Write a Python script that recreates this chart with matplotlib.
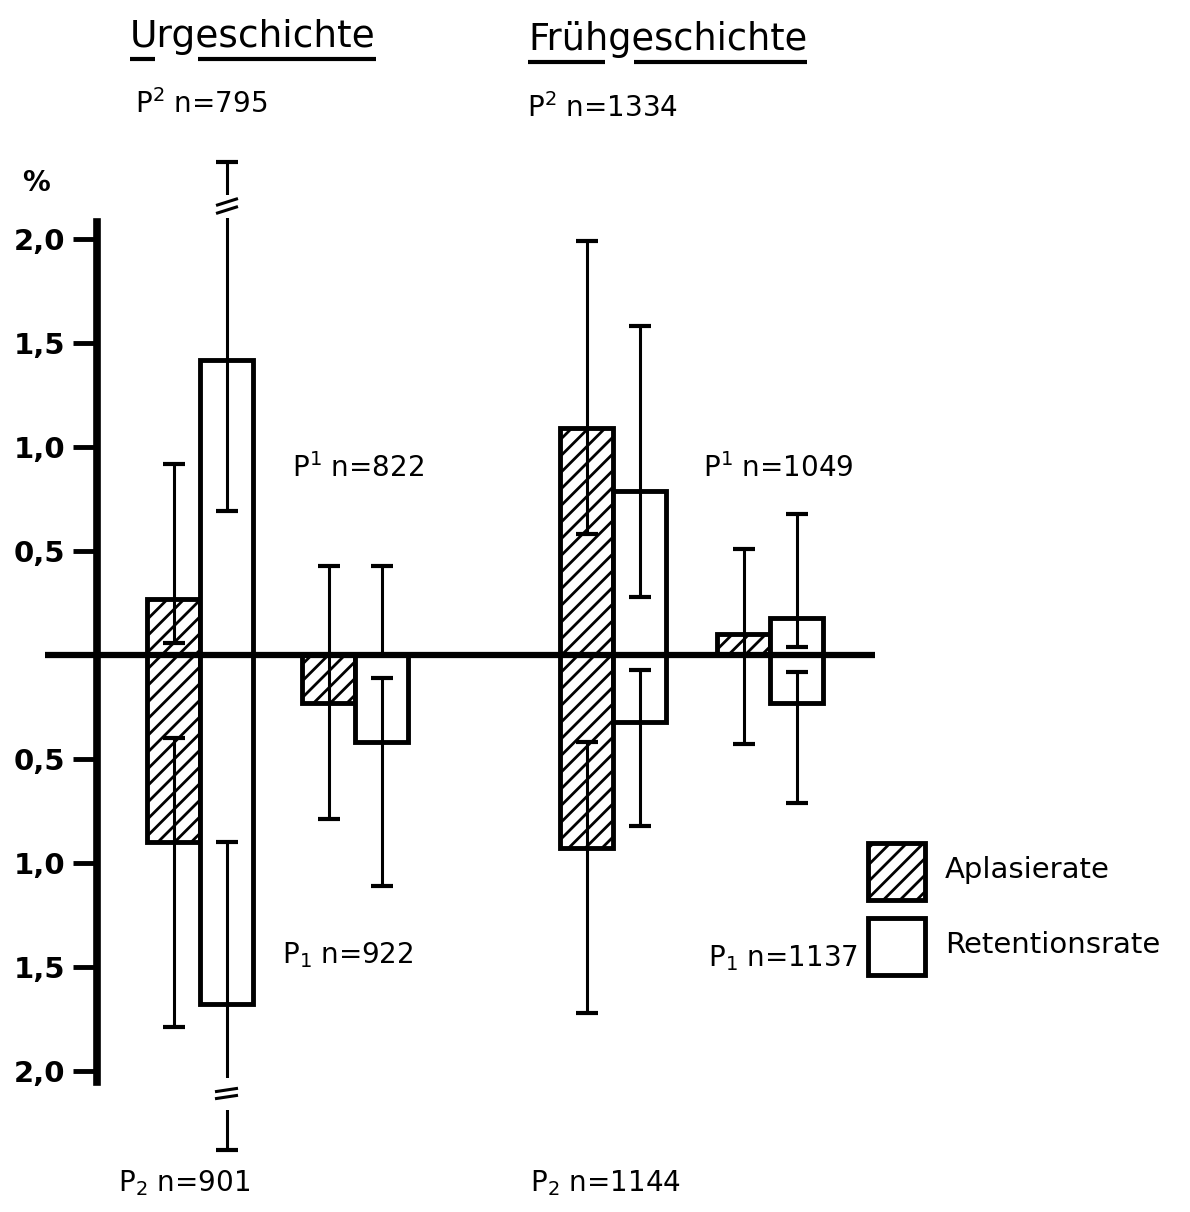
import matplotlib
matplotlib.use("Agg")
import matplotlib.pyplot as plt
from matplotlib.patches import Rectangle
from matplotlib.ticker import FuncFormatter

plt.rcParams['font.family'] = ['DejaVu Sans']
plt.rcParams['mathtext.fontset'] = 'dejavusans'
plt.rcParams['hatch.linewidth'] = 2.0
plt.rcParams['hatch.color'] = 'black'

# ---------------- data (%), order: P2 (upper), P1 (upper), P2 (lower), P1 (lower)
periods = ["Urgeschichte", "Frühgeschichte"]
rate_names = ["Aplasierate", "Retentionsrate"]
tooth_labels = [r"P$^2$", r"P$^1$", r"P$_2$", r"P$_1$"]
tooth_jaw = [1, 1, -1, -1]       # +1 upper jaw (above line), -1 lower jaw (below)
tooth_pair = [0, 1, 0, 1]        # P2-pair / P1-pair column

urg_n = [795, 822, 901, 922]
frueh_n = [1334, 1049, 1144, 1137]

urg_aplasie = [0.27, 0.0, 0.90, 0.23]
urg_aplasie_lo = [0.06, 0.0, 0.40, 0.0]
urg_aplasie_hi = [0.92, 0.43, 1.79, 0.79]
urg_retention = [1.42, 0.0, 1.68, 0.42]
urg_retention_lo = [0.69, 0.0, 0.90, 0.11]
urg_retention_hi = [2.37, 0.43, 2.38, 1.11]   # P2 limits off scale (drawn broken)

frueh_aplasie = [1.09, 0.10, 0.93, 0.0]
frueh_aplasie_lo = [0.58, 0.0, 0.42, 0.0]
frueh_aplasie_hi = [1.99, 0.51, 1.72, 0.43]
frueh_retention = [0.79, 0.18, 0.32, 0.23]
frueh_retention_lo = [0.28, 0.04, 0.07, 0.08]
frueh_retention_hi = [1.58, 0.68, 0.82, 0.71]

yticks = [-2.0, -1.5, -1.0, -0.5, 0.5, 1.0, 1.5, 2.0]
axis_limit = 2.0

# ---------------- layout (pixels)
W, H = 1190, 1212
PX = 208.0          # pixels per 1 %
Y0 = 655            # pixel row of zero line
def v(ypix):
    return (Y0 - ypix) / PX

pair_left = {("Urgeschichte", 0): 147, ("Urgeschichte", 1): 302,
             ("Frühgeschichte", 0): 560, ("Frühgeschichte", 1): 717}
bar_w = 53
HATCH = "//"

fig = plt.figure(figsize=(W / 100, H / 100), dpi=100)
ax = fig.add_axes([0, 0, 1, 1])
ax.set_xlim(0, W)
ax.set_ylim(v(H), v(0))
ax.patch.set_visible(False)

for s in ["top", "right", "bottom"]:
    ax.spines[s].set_visible(False)
ax.spines["left"].set_position(("data", 97))
ax.spines["left"].set_bounds(v(1082), v(222))
ax.spines["left"].set_linewidth(5.5)
ax.set_xticks([])
ax.set_yticks(yticks)
ax.yaxis.set_major_formatter(FuncFormatter(lambda y, p: f"{abs(y):.1f}".replace(".", ",")))
ax.tick_params(axis="y", direction="out", length=17, width=3.5, pad=6, labelsize=21)
for lab in ax.get_yticklabels():
    lab.set_fontweight("bold")

ax.hlines(0, 45, 875, color="black", lw=4.5, zorder=3)

data = {
    "Urgeschichte": [(urg_aplasie, urg_aplasie_lo, urg_aplasie_hi),
                     (urg_retention, urg_retention_lo, urg_retention_hi)],
    "Frühgeschichte": [(frueh_aplasie, frueh_aplasie_lo, frueh_aplasie_hi),
                       (frueh_retention, frueh_retention_lo, frueh_retention_hi)],
}

breaks = []
for per in periods:
    for r, (vals, lo, hi) in enumerate(data[per]):
        for i in range(4):
            sgn = tooth_jaw[i]
            x = pair_left[(per, tooth_pair[i])] + bar_w * (r + 0.5)
            h = vals[i]
            if h > 0:
                ax.bar(x, sgn * h, width=bar_w, bottom=0, facecolor="white",
                       edgecolor="black", linewidth=3.5,
                       hatch=HATCH if r == 0 else None, zorder=2)
            a, b = sgn * lo[i], sgn * hi[i]
            y = sgn * h
            lower, upper = min(a, b), max(a, b)
            ax.errorbar(x, y, yerr=[[y - lower], [upper - y]], fmt="none",
                        ecolor="black", elinewidth=2.2, capsize=8, capthick=3, zorder=4)
            if hi[i] > axis_limit + 0.2:
                breaks.append((x, sgn))

# break marks on the off-scale error bars
for x, sgn in breaks:
    if sgn > 0:
        g0, g1 = v(218), v(195)
        ax.add_patch(Rectangle((x - 12, g0), 24, g1 - g0, facecolor="white",
                               edgecolor="none", zorder=5))
        for yc in (v(202), v(210)):
            ax.plot([x - 9, x + 10], [yc - 3 / PX, yc + 3 / PX], color="black", lw=2.2, zorder=6)
    else:
        g0, g1 = v(1110), v(1078)
        ax.add_patch(Rectangle((x - 12, g0), 24, g1 - g0, facecolor="white",
                               edgecolor="none", zorder=5))
        for yc in (v(1090), v(1097)):
            ax.plot([x - 10, x + 10], [yc - 1.5 / PX, yc + 1.5 / PX], color="black", lw=2.2, zorder=6)

# ---------------- texts
ax.text(22, v(183), "%", fontsize=20, fontweight="bold", ha="left", va="center")

title_pos = {"Urgeschichte": (130, 37, 27), "Frühgeschichte": (528, 39, 26.5)}
underline_parts = {"Urgeschichte": [(0, 1), (3, 12)], "Frühgeschichte": [(0, 4), (5, 14)]}
underline_y = {"Urgeschichte": 59, "Frühgeschichte": 62}
titles = {}
for per in periods:
    x, y, fs = title_pos[per]
    titles[per] = ax.text(x, v(y), per, fontsize=fs, ha="left", va="center")

n_pos = {("Urgeschichte", 0): (135, 104), ("Urgeschichte", 1): (292, 468),
         ("Urgeschichte", 2): (118, 1183), ("Urgeschichte", 3): (282, 955),
         ("Frühgeschichte", 0): (527, 108), ("Frühgeschichte", 1): (703, 468),
         ("Frühgeschichte", 2): (530, 1183), ("Frühgeschichte", 3): (708, 958)}
for per, ns in (("Urgeschichte", urg_n), ("Frühgeschichte", frueh_n)):
    for i in range(4):
        x, y = n_pos[(per, i)]
        ax.text(x, v(y), f"{tooth_labels[i]} n={ns[i]}", fontsize=20, ha="left", va="center")

# legend
leg = [(843, HATCH, rate_names[0], 870), (918, None, rate_names[1], 945)]
for ytop, hatch, name, ty in leg:
    ax.add_patch(Rectangle((868, v(ytop + 57)), 57, 57 / PX, facecolor="white",
                           edgecolor="black", linewidth=3.5, hatch=hatch, zorder=2))
    ax.text(945, v(ty), name, fontsize=21, ha="left", va="center")

# underlines for titles
fig.canvas.draw()
renderer = fig.canvas.get_renderer()
inv = ax.transData.inverted()
for per in periods:
    t = titles[per]
    bb = t.get_window_extent(renderer)
    fs = t.get_fontsize()
    def width(s):
        if not s:
            return 0.0
        tmp = ax.text(0, 0, s, fontsize=fs)
        w = tmp.get_window_extent(renderer).width
        tmp.remove()
        return w
    yline = v(underline_y[per])
    for a, b in underline_parts[per]:
        xa = bb.x0 + width(per[:a]) + (0 if a == 0 else 2)
        xb = bb.x0 + width(per[:b]) - (3 if b < len(per) else 0)
        xa_d = inv.transform((xa, 0))[0]
        xb_d = inv.transform((xb, 0))[0]
        ax.plot([xa_d, xb_d], [yline, yline], color="black", lw=3, solid_capstyle="butt")

fig.savefig("out.png", dpi=100, facecolor="white")
